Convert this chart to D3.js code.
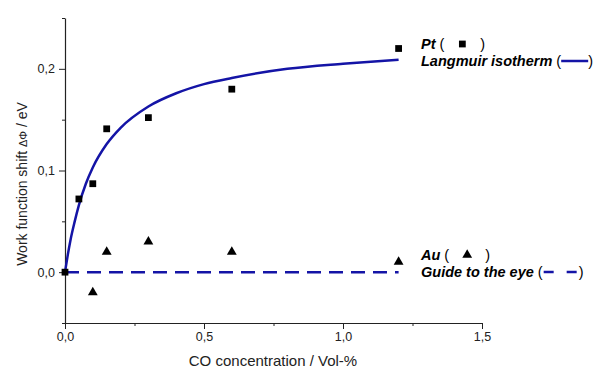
<!DOCTYPE html>
<html>
<head>
<meta charset="utf-8">
<script src="https://cdn.jsdelivr.net/npm/d3@7"></script>
<style>
  body { margin: 0; background: #fff; }
  text { font-family: "Liberation Sans", Arial, sans-serif; }
</style>
</head>
<body>
<div id="chart"></div>
<script>
// measured points
const ptConc = [0, 0.05, 0.1, 0.15, 0.3, 0.6, 1.2]
const ptShift = [0, 0.072, 0.087, 0.141, 0.152, 0.180, 0.220]
const auConc = [0.1, 0.15, 0.3, 0.6, 1.2]
const auShift = [-0.02, 0.02, 0.03, 0.02, 0.01]

// Langmuir fit curve
const langConc = [0, 0.01, 0.02, 0.035, 0.05, 0.075, 0.1, 0.15, 0.2, 0.3, 0.4, 0.5, 0.6, 0.8, 1.0, 1.2]
const langShift = [0, 0.017, 0.032, 0.050, 0.066, 0.087, 0.103, 0.126, 0.142, 0.163, 0.176, 0.185, 0.191, 0.200, 0.205, 0.209]

// guide to the eye
const guideConc = [0, 1.2]
const guideShift = [0, 0]

const xTicks = [0, 0.5, 1.0, 1.5]
const xMinor = [0.25, 0.75, 1.25]
const yTicks = [0, 0.1, 0.2]
const yMinor = [-0.05, 0.05, 0.15, 0.25]

const MARGIN = { TOP: 18, BOTTOM: 47, LEFT: 65, RIGHT: 122 }
const WIDTH = 604 - MARGIN.LEFT - MARGIN.RIGHT
const HEIGHT = 370 - MARGIN.TOP - MARGIN.BOTTOM
const BLUE = "#1414a6"
const LEGEND_FONT = 14.5

const comma = d3.formatLocale({ decimal: ",", thousands: ".", grouping: [3], currency: ["", ""] }).format(".1f")

const svg = d3.select("#chart")
  .append("svg")
    .attr("width", 604)
    .attr("height", 370)

const g = svg.append("g")
  .attr("transform", `translate(${MARGIN.LEFT}, ${MARGIN.TOP})`)

const x = d3.scaleLinear().domain([0, 1.5]).range([0, WIDTH])
const y = d3.scaleLinear().domain([-0.05, 0.25]).range([HEIGHT, 0])

// axes
const xAxis = g.append("g")
  .attr("transform", `translate(0, ${HEIGHT})`)
  .call(d3.axisBottom(x).tickValues(xTicks).tickFormat(comma).tickSize(6).tickSizeOuter(0))
g.append("g")
  .attr("transform", `translate(0, ${HEIGHT})`)
  .call(d3.axisBottom(x).tickValues(xMinor).tickFormat("").tickSize(3).tickSizeOuter(0))
  .select(".domain").remove()

const yAxis = g.append("g")
  .call(d3.axisLeft(y).tickValues(yTicks).tickFormat(comma).tickSize(6).tickSizeOuter(0))
g.append("g")
  .call(d3.axisLeft(y).tickValues(yMinor).tickFormat("").tickSize(3).tickSizeOuter(0))
  .select(".domain").remove()

g.selectAll(".domain").attr("stroke", "#222").attr("stroke-width", 1.2)
g.selectAll(".tick line").attr("stroke", "#222")
xAxis.selectAll("text").attr("font-size", 12.5).attr("fill", "#222").attr("dy", "0.75em")
yAxis.selectAll("text").attr("font-size", 12.5).attr("fill", "#222").attr("dx", "-1")

// axis titles
svg.append("text")
  .attr("x", 273)
  .attr("y", 366)
  .attr("text-anchor", "middle")
  .attr("font-size", 15)
  .attr("fill", "#222")
  .text("CO concentration / Vol-%")

const yTitle = svg.append("text")
  .attr("transform", `translate(27, 184) rotate(-90)`)
  .attr("text-anchor", "middle")
  .attr("font-size", 14)
  .attr("fill", "#222")
yTitle.append("tspan").text("Work function shift ")
yTitle.append("tspan").attr("font-size", 11).text("\u0394\u03A6")
yTitle.append("tspan").text(" / eV")

// lines
const line = d3.line().x(i => x(i[0])).y(i => y(i[1]))

g.append("path")
  .datum(d3.zip(guideConc, guideShift))
  .attr("d", line)
  .attr("fill", "none")
  .attr("stroke", BLUE)
  .attr("stroke-width", 2.5)
  .attr("stroke-dasharray", "14,8")

g.append("path")
  .datum(d3.zip(langConc, langShift))
  .attr("d", line.curve(d3.curveMonotoneX))
  .attr("fill", "none")
  .attr("stroke", BLUE)
  .attr("stroke-width", 2.5)

// markers
const square = d3.symbol().type(d3.symbolSquare).size(46)
const triangle = d3.symbol().type(d3.symbolTriangle).size(42)

g.selectAll(".pt")
  .data(d3.zip(ptConc, ptShift))
  .enter().append("path")
    .attr("class", "pt")
    .attr("transform", d => `translate(${x(d[0])}, ${y(d[1])})`)
    .attr("d", square)
    .attr("fill", "#000")

g.selectAll(".au")
  .data(d3.zip(auConc, auShift))
  .enter().append("path")
    .attr("class", "au")
    .attr("transform", d => `translate(${x(d[0])}, ${y(d[1])})`)
    .attr("d", triangle)
    .attr("fill", "#000")

// legend
function legendRow(px, py, label, drawKey, keyWidth) {
  const t = svg.append("text")
    .attr("x", px).attr("y", py)
    .attr("font-size", LEGEND_FONT)
    .attr("font-weight", "bold")
    .attr("font-style", "italic")
    .attr("fill", "#000")
  t.append("tspan").text(label)
  t.append("tspan").attr("font-weight", "normal").attr("font-style", "normal").text(" (")
  const w = t.node().getComputedTextLength()
  drawKey(px + w, py - 5)
  svg.append("text")
    .attr("x", px + w + keyWidth).attr("y", py)
    .attr("font-size", LEGEND_FONT)
    .attr("fill", "#000")
    .text(")")
}

legendRow(421, 49, "Pt", (kx, ky) => {
  svg.append("path").attr("transform", `translate(${kx + 18}, ${ky})`).attr("d", square).attr("fill", "#000")
}, 36)

legendRow(421, 66, "Langmuir isotherm", (kx, ky) => {
  svg.append("line").attr("x1", kx).attr("x2", kx + 27).attr("y1", ky).attr("y2", ky)
    .attr("stroke", BLUE).attr("stroke-width", 2.5)
}, 27)

legendRow(421, 260, "Au", (kx, ky) => {
  svg.append("path").attr("transform", `translate(${kx + 18}, ${ky})`).attr("d", triangle).attr("fill", "#000")
}, 36)

legendRow(421, 277, "Guide to the eye", (kx, ky) => {
  svg.append("line").attr("x1", kx + 1).attr("x2", kx + 34).attr("y1", ky).attr("y2", ky)
    .attr("stroke", BLUE).attr("stroke-width", 2.5).attr("stroke-dasharray", "10,13")
}, 36)
</script>
</body>
</html>
